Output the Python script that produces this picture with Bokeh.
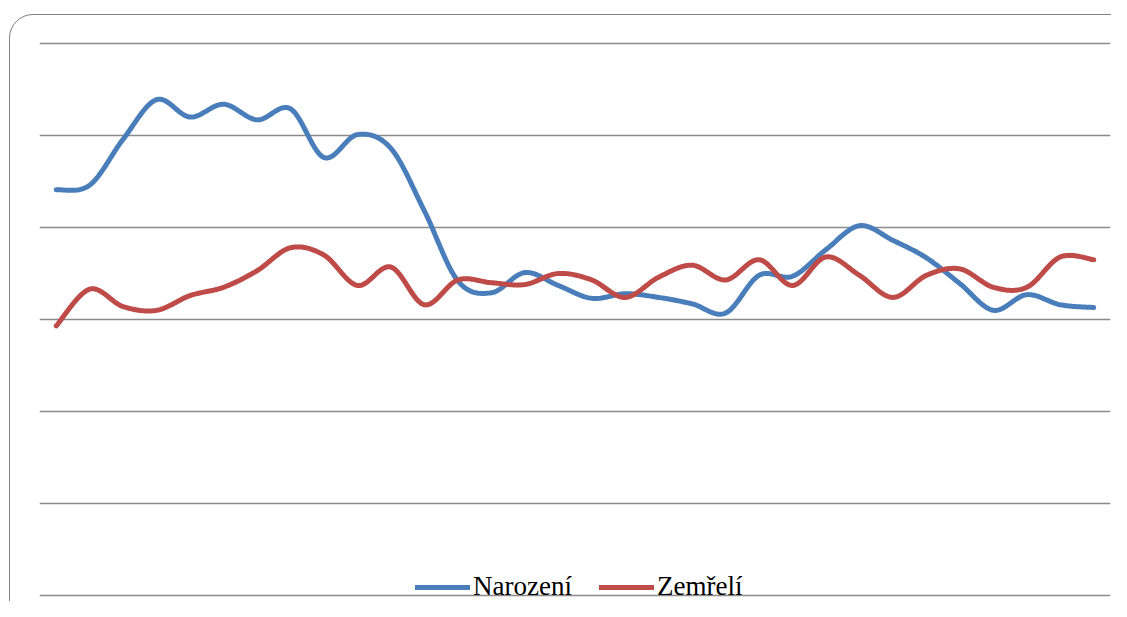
import numpy as np
from bokeh.plotting import figure
from bokeh.models import FixedTicker, Legend, LegendItem, Range1d, InlineStyleSheet
from bokeh.embed import file_html
from bokeh.resources import INLINE

# ---- data ----
categories = list(range(1, 33))
narozeni = [44.1, 44.6, 49.6, 53.9, 52.0, 53.4, 51.7, 52.9, 47.6, 50.1,
            48.6, 41.8, 34.2, 32.9, 35.1, 33.7, 32.3, 32.8, 32.4, 31.7,
            30.7, 34.8, 34.7, 37.6, 40.2, 38.6, 36.7, 33.9, 31.0, 32.7,
            31.6, 31.3]
zemreli = [29.3, 33.3, 31.4, 31.0, 32.6, 33.5, 35.3, 37.8, 37.0, 33.7,
           35.7, 31.6, 34.3, 34.0, 33.8, 35.0, 34.3, 32.4, 34.6, 35.9,
           34.3, 36.5, 33.7, 36.8, 34.8, 32.4, 34.8, 35.5, 33.5, 33.5,
           36.8, 36.5]
grid_values = [0, 10, 20, 30, 40, 50, 60]
series_names = ["Narození", "Zemřelí"]
series_colors = ["#4A7EBB", "#BE4B48"]


def smooth(xs, ys, n=24):
    """Catmull-Rom smoothing like a spreadsheet 'smoothed line'."""
    P = np.column_stack([np.asarray(xs, float), np.asarray(ys, float)])
    ext = np.vstack([P[0], P, P[-1]])
    segs = []
    last = len(P) - 2
    for i in range(len(P) - 1):
        p0, p1, p2, p3 = ext[i], ext[i + 1], ext[i + 2], ext[i + 3]
        t = np.linspace(0, 1, n, endpoint=(i == last))[:, None]
        m1 = (p2 - p0) / 2.0
        m2 = (p3 - p1) / 2.0
        h00 = 2 * t**3 - 3 * t**2 + 1
        h10 = t**3 - 2 * t**2 + t
        h01 = -2 * t**3 + 3 * t**2
        h11 = t**3 - t**2
        segs.append(h00 * p1 + h10 * m1 + h01 * p2 + h11 * m2)
    S = np.vstack(segs)
    return S[:, 0], S[:, 1]


xpos = [c - 1 for c in categories]

W, H = 1111, 601
px_per_unit = 9.2
p = figure(width=W, height=H, output_backend="svg", toolbar_location=None,
           x_range=Range1d(-0.5, len(categories) - 0.5),
           y_range=Range1d(-(H - 595) / px_per_unit, 60 + 43 / px_per_unit),
           x_axis_location=None, y_axis_location=None,
           min_border_left=39, min_border_right=1,
           min_border_top=0, min_border_bottom=0)
p.outline_line_color = None
p.background_fill_color = "white"
p.border_fill_color = "white"
p.xgrid.visible = False
p.ygrid.ticker = FixedTicker(ticks=grid_values)
p.ygrid.grid_line_color = "#8a8a8a"
p.ygrid.grid_line_width = 1.5

renderers = []
for vals, col in zip([narozeni, zemreli], series_colors):
    sx, sy = smooth(xpos, vals)
    r = p.line(sx, sy, line_color=col, line_width=5, line_cap="round", line_join="round")
    renderers.append(r)

legend = Legend(items=[LegendItem(label=n, renderers=[r]) for n, r in zip(series_names, renderers)],
                orientation="horizontal", location=(376, -1),
                glyph_width=55, glyph_height=20, label_standoff=3, spacing=27,
                padding=0, margin=0, border_line_color=None, background_fill_alpha=0,
                label_text_font="Liberation Serif", label_text_font_size="27px",
                label_text_color="black")
p.add_layout(legend)

# rounded chart-area border (decoration), drawn by CSS
p.stylesheets = [InlineStyleSheet(css="""
:host { position: relative; overflow: hidden; }
:host::after {
  content: ""; position: absolute; left: 9px; top: 14px;
  width: 1140px; height: 620px;
  border: 1.4px solid #808080; border-radius: 24px;
  pointer-events: none; box-sizing: border-box;
}
""")]

open("out.html", "w").write(file_html(p, INLINE))
